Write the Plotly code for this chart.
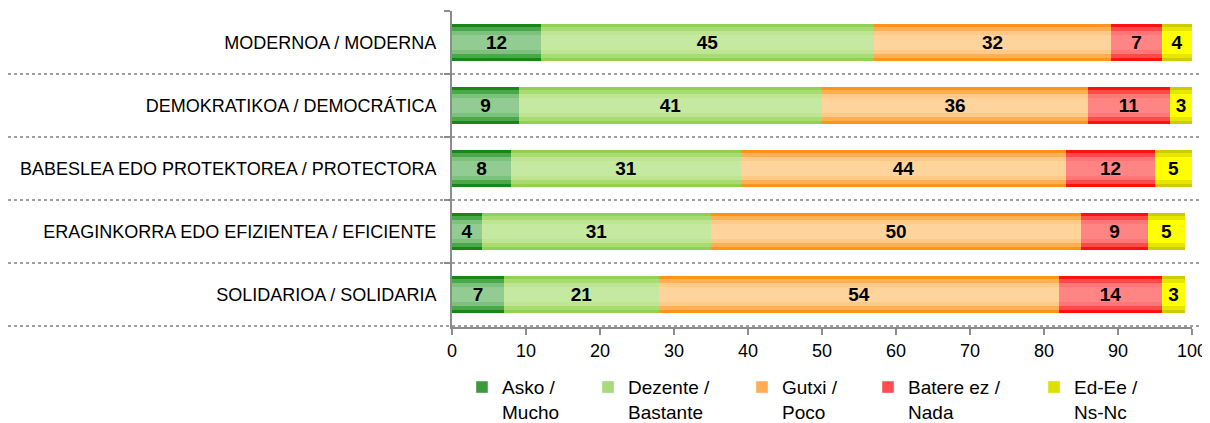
import plotly.graph_objects as go
import numpy as np

categories = ["MODERNOA / MODERNA", "DEMOKRATIKOA / DEMOCRÁTICA",
              "BABESLEA EDO PROTEKTOREA / PROTECTORA",
              "ERAGINKORRA EDO EFIZIENTEA / EFICIENTE", "SOLIDARIOA / SOLIDARIA"]
series_names = ["Asko /<br>Mucho", "Dezente /<br>Bastante", "Gutxi /<br>Poco",
                "Batere ez /<br>Nada", "Ed-Ee /<br>Ns-Nc"]
asko = [12, 9, 8, 4, 7]
dezente = [45, 41, 31, 31, 21]
gutxi = [32, 36, 44, 50, 54]
batere = [7, 11, 12, 9, 14]
edee = [4, 3, 5, 5, 3]
series = [asko, dezente, gutxi, batere, edee]

# gradient layers: edge -> centre
palettes = [
    ["#1a861a", "#4aa84a", "#7cc27c", "#92cc92"],
    ["#92d050", "#a8dc72", "#bde592", "#c6e9a2"],
    ["#ff9419", "#ffb055", "#ffca88", "#ffd49c"],
    ["#ff1010", "#ff4a4a", "#ff7676", "#ff8484"],
    ["#cccc00", "#e6e600", "#ffff00", "#ffff00"],
]
legend_colors = ["#3c9a3c", "#a9dc78", "#ffae55", "#ff4d4d", "#e0e000"]
legend_ids = ["legend", "legend2", "legend3", "legend4", "legend5"]
legend_x = [0.0135, 0.1838, 0.3919, 0.5622, 0.7865]
widths = [0.59, 0.50, 0.38, 0.24]

fig = go.Figure()
cum = np.zeros(len(categories))
for name, vals, pal, lc, lid in zip(series_names, series, palettes, legend_colors, legend_ids):
    vals = np.array(vals, dtype=float)
    for li, (w, c) in enumerate(zip(widths, pal)):
        fig.add_trace(go.Bar(
            y=categories, x=vals, base=cum, orientation="h", width=w,
            marker=dict(color=c, line=dict(width=0)),
            showlegend=False, hoverinfo="skip"))
    fig.add_trace(go.Bar(
        y=categories, x=vals, base=cum, orientation="h", width=0.59,
        marker=dict(color="rgba(0,0,0,0)", line=dict(width=0)),
        text=[str(int(v)) for v in vals], textposition="inside",
        insidetextanchor="middle", textangle=0,
        textfont=dict(family="Liberation Sans, Arial", size=19, color="black", weight="bold"),
        showlegend=False, hoverinfo="skip"))
    fig.add_trace(go.Bar(
        y=[None], x=[None], orientation="h", name=name, legend=lid,
        marker=dict(color=lc), showlegend=True))
    cum = cum + vals

shapes = []
for b in [0.5, 1.5, 2.5, 3.5, 4.5]:
    shapes.append(dict(type="line", xref="paper", yref="y",
                       x0=-0.6, x1=1.018, y0=b, y1=b,
                       line=dict(color="#a0a0a0", width=2, dash="dot"), layer="below"))

legend_style = dict(orientation="h", xanchor="left", yref="container", y=0.132,
                    yanchor="top", font=dict(size=19, color="#000"),
                    valign="top", itemwidth=30, bgcolor="rgba(0,0,0,0)")

# the page body adds an 8 px offset, so the figure is 8 px smaller
layout_legends = {lid: dict(legend_style, x=lx) for lid, lx in zip(legend_ids, legend_x)}
fig.update_layout(
    width=1202, height=415,
    margin=dict(l=444, r=18, t=3, b=96),
    barmode="overlay",
    plot_bgcolor="white", paper_bgcolor="white",
    font=dict(family="Liberation Sans, Arial", color="#000000"),
    shapes=shapes,
    showlegend=True,
    bargap=0,
    **layout_legends,
)
fig.update_xaxes(range=[0, 100], dtick=10, showgrid=False, zeroline=False,
                 showline=True, linecolor="#8c8c8c", linewidth=2,
                 ticks="outside", ticklen=6, tickcolor="#8c8c8c", tickwidth=2,
                 tickfont=dict(size=18, color="#000"))
fig.update_yaxes(categoryorder="array", categoryarray=categories, autorange="reversed",
                 showgrid=False, zeroline=False,
                 showline=True, linecolor="#8c8c8c", linewidth=2,
                 ticks="outside", ticklen=6, tickcolor="#8c8c8c", tickwidth=2,
                 tickson="boundaries", ticklabelstandoff=10,
                 tickfont=dict(size=18, color="#000"))

fig.write_html("out.html")
